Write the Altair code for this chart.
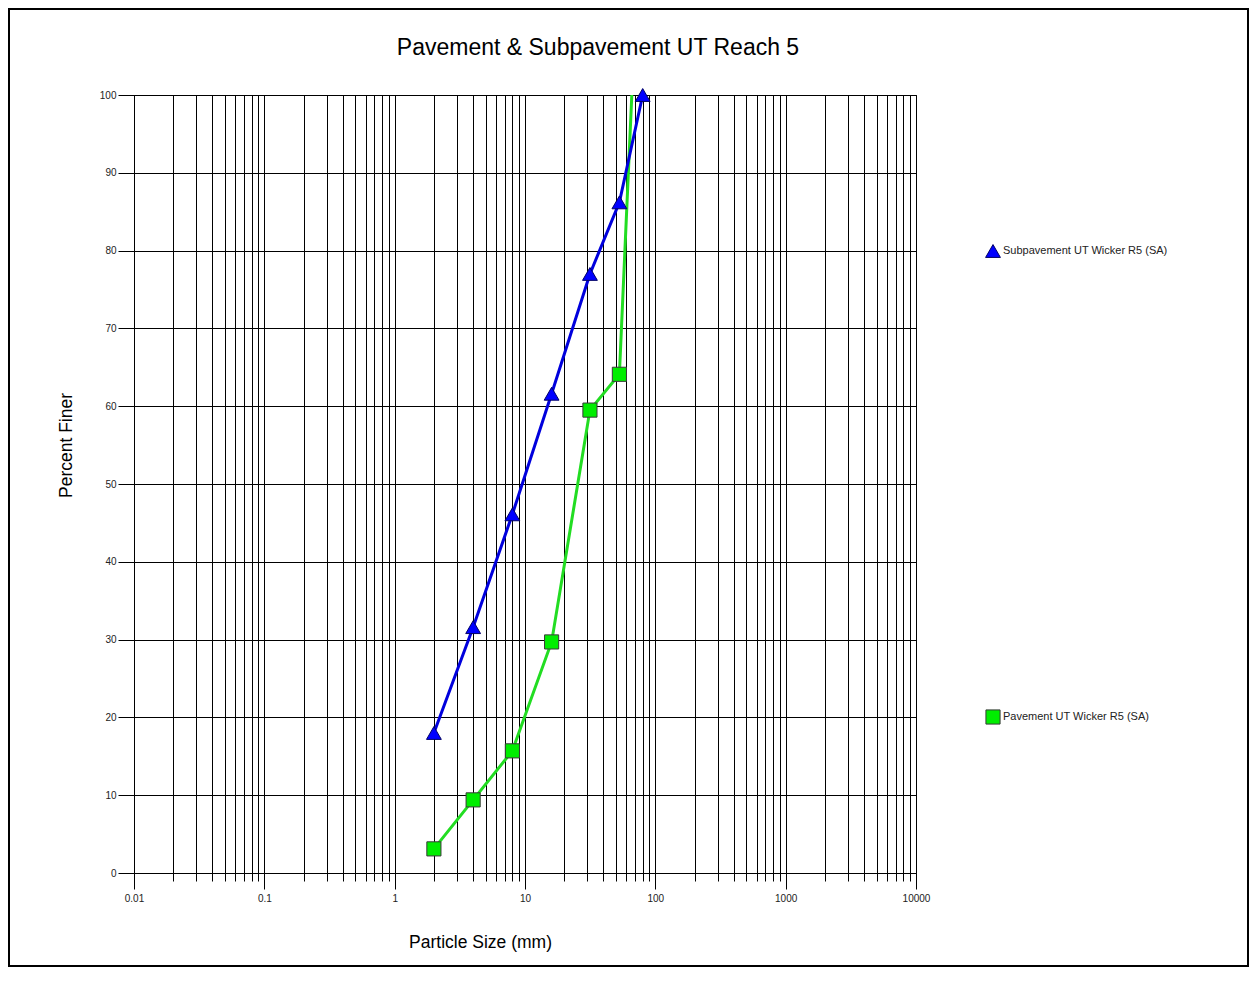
import altair as alt
import pandas as pd

# ---- data ----
series_names = ["Subpavement UT Wicker R5 (SA)", "Pavement UT Wicker R5 (SA)"]

sub_size = [2, 4, 8, 16, 31.5, 53, 80]
sub_pct = [18.0, 31.6, 46.1, 61.6, 77.0, 86.2, 100.0]

pav_size = [2, 4, 8, 16, 31.5, 53, 66]
pav_pct = [3.1, 9.4, 15.7, 29.7, 59.5, 64.1, 100.0]
pav_marker = [True, True, True, True, True, True, False]

x_grid = [round(m * 10 ** e, 6) for e in range(-2, 4) for m in range(1, 10)] + [10000]
y_grid = list(range(0, 101, 10))

title_text = "Pavement & Subpavement UT Reach 5"
x_title = "Particle Size (mm)"
y_title = "Percent Finer"

FONT = "Arial, Liberation Sans, sans-serif"

sub_df = pd.DataFrame({"size": sub_size, "pct": sub_pct})
pav_df = pd.DataFrame({"size": pav_size, "pct": pav_pct, "marker": pav_marker})

decade = "abs(log(datum.value)/LN10 - round(log(datum.value)/LN10)) < 0.001"

x_scale = alt.Scale(type="log", domain=[0.01, 10000], nice=False)
y_scale = alt.Scale(domain=[0, 100], nice=False, zero=False)

x_axis = alt.Axis(
    values=x_grid,
    grid=True,
    gridColor="black",
    gridWidth=1,
    gridOpacity=1,
    domainColor="black",
    tickColor="black",
    tickSize={"condition": {"test": decade, "value": 16}, "value": 8},
    labelExpr=decade + " ? format(datum.value, '~g') : ''",
    labelOverlap=False,
    labelFlush=False,
    labelFont=FONT,
    labelFontSize=10,
    labelColor="#222222",
    labelPadding=4,
    title=x_title,
    titleFont=FONT,
    titleFontSize=17.5,
    titleFontWeight="normal",
    titleColor="black",
    titleX=346,
    titleY=69,
    titleAlign="center",
    titleBaseline="middle",
)

y_axis = alt.Axis(
    values=y_grid,
    grid=True,
    gridColor="black",
    gridWidth=1,
    gridOpacity=1,
    domainColor="black",
    tickColor="black",
    tickSize=16,
    labelFont=FONT,
    labelFontSize=10,
    labelColor="#222222",
    labelPadding=2,
    title=y_title,
    titleFont=FONT,
    titleFontSize=17.5,
    titleFontWeight="normal",
    titleColor="black",
    titleX=-68,
    titleY=350,
    titleAngle=270,
    titleAlign="center",
    titleBaseline="middle",
)

base_x = alt.X("size:Q", scale=x_scale, axis=x_axis)
base_y = alt.Y("pct:Q", scale=y_scale, axis=y_axis)

pav_line = alt.Chart(pav_df).mark_line(color="#22DD22", strokeWidth=3).encode(
    x=base_x, y=base_y, order=alt.Order("size:Q")
)
pav_pts = alt.Chart(pav_df).transform_filter("datum.marker").mark_point(
    shape="square", filled=True, size=200, fill="#00EE00", stroke="#3a3a3a",
    strokeWidth=1, opacity=1
).encode(x="size:Q", y="pct:Q")

sub_line = alt.Chart(sub_df).mark_line(color="#0000DD", strokeWidth=3).encode(
    x="size:Q", y="pct:Q", order=alt.Order("size:Q")
)
sub_pts = alt.Chart(sub_df).mark_point(
    shape="triangle-up", filled=True, size=220, fill="#0000FF", stroke="#000066",
    strokeWidth=1, opacity=1
).encode(x="size:Q", y="pct:Q")

# legend entries (manual, placed at the right of the plot)
leg_df_sub = pd.DataFrame({"label": [series_names[0]]})
leg_df_pav = pd.DataFrame({"label": [series_names[1]]})

leg_sub_sym = alt.Chart(leg_df_sub).mark_point(
    shape="triangle-up", filled=True, size=220, fill="#0000FF", stroke="#000066",
    strokeWidth=1, opacity=1
).encode(x=alt.value(859), y=alt.value(156))
leg_sub_txt = alt.Chart(leg_df_sub).mark_text(
    align="left", baseline="middle", font=FONT, fontSize=11, color="#222222"
).encode(x=alt.value(869), y=alt.value(156), text="label:N")

leg_pav_sym = alt.Chart(leg_df_pav).mark_point(
    shape="square", filled=True, size=200, fill="#00EE00", stroke="#3a3a3a",
    strokeWidth=1, opacity=1
).encode(x=alt.value(859), y=alt.value(622))
leg_pav_txt = alt.Chart(leg_df_pav).mark_text(
    align="left", baseline="middle", font=FONT, fontSize=11, color="#222222"
).encode(x=alt.value(869), y=alt.value(622), text="label:N")

# chart title as a text mark above the plot
title_mark = alt.Chart(pd.DataFrame({"t": [title_text]})).mark_text(
    align="center", baseline="middle", font=FONT, fontSize=23, color="black"
).encode(x=alt.value(464), y=alt.value(-47), text="t:N")

frame = alt.Chart(pd.DataFrame({"f": [0]})).mark_rect(
    fill="transparent", stroke="black", strokeWidth=2
).encode(x=alt.value(-125), x2=alt.value(1114), y=alt.value(-86), y2=alt.value(871))

chart = alt.layer(
    pav_line, pav_pts, sub_line, sub_pts,
    leg_sub_sym, leg_sub_txt, leg_pav_sym, leg_pav_txt, title_mark, frame
).properties(
    width=782,
    height=778,
    autosize=alt.AutoSizeParams(type="none"),
    padding={"left": 126, "top": 87, "right": 333, "bottom": 95},
    background="white",
).configure_view(stroke="black", strokeWidth=1)

chart.save("out.html", embed_options={"renderer": "svg", "actions": False})
